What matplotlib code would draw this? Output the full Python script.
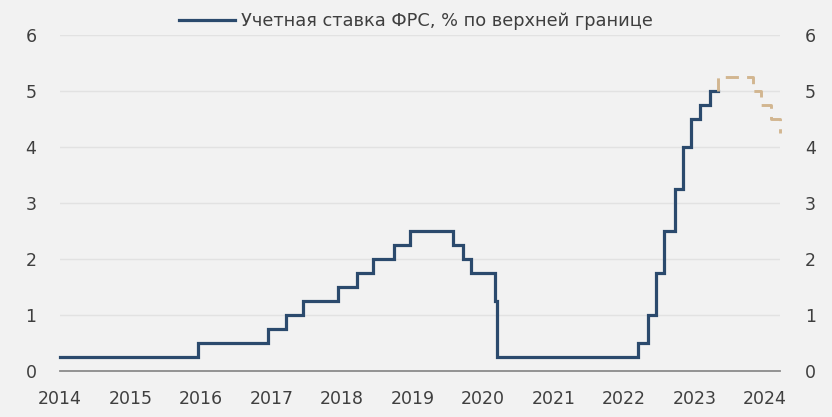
import matplotlib
matplotlib.use("Agg")
import matplotlib.pyplot as plt
import pandas as pd

plt.rcParams['font.family'] = ['DejaVu Sans']

# Actual upper bound of the Fed funds rate, %
fact_dates = ["2014-01-01", "2015-12-16", "2016-12-14", "2017-03-15", "2017-06-14",
              "2017-12-13", "2018-03-21", "2018-06-13", "2018-09-26", "2018-12-19",
              "2019-07-31", "2019-09-18", "2019-10-30", "2020-03-03", "2020-03-15",
              "2022-03-16", "2022-05-04", "2022-06-15", "2022-07-27", "2022-09-21",
              "2022-11-02", "2022-12-14", "2023-02-01", "2023-03-22", "2023-05-03"]
fact_values = [0.25, 0.50, 0.75, 1.00, 1.25,
               1.50, 1.75, 2.00, 2.25, 2.50,
               2.25, 2.00, 1.75, 1.25, 0.25,
               0.50, 1.00, 1.75, 2.50, 3.25,
               4.00, 4.50, 4.75, 5.00, 5.00]

# Forecast path (dashed)
fc_dates = ["2023-05-03", "2023-05-03", "2023-11-01", "2023-12-13", "2024-01-31", "2024-03-20"]
fc_values = [5.00, 5.25, 5.00, 4.75, 4.50, 4.25]

years = list(range(2014, 2025))
y_ticks = [0, 1, 2, 3, 4, 5, 6]
legend_label = "Учетная ставка ФРС, % по верхней границе"

bg = "#f2f2f2"
navy = "#2b4a6d"
tan = "#d2b690"
txt = "#3f3f3f"

fig = plt.figure(figsize=(8.32, 4.17), dpi=100, facecolor=bg)
ax = fig.add_axes([60/832, 46/417, 720/832, 336/417])
ax.set_facecolor(bg)

fd = pd.to_datetime(fact_dates)
cd = pd.to_datetime(fc_dates)
ax.plot(fd, fact_values, drawstyle="steps-post", color=navy, lw=2.3,
        label=legend_label, solid_joinstyle="miter", clip_on=False)
ax.plot(cd, fc_values, drawstyle="steps-post", color=tan, lw=2.1,
        dashes=(4.5, 2.8), clip_on=False)

ax.set_xlim(pd.Timestamp("2014-01-01"), pd.Timestamp("2024-03-20"))
ax.set_ylim(0, 6)
ax.set_yticks(y_ticks)
ax.set_xticks(pd.to_datetime([f"{y}-01-01" for y in years]))
ax.set_xticklabels([str(y) for y in years])
ax.grid(axis="y", color="#e2e2e2", lw=1)
ax.set_axisbelow(True)
for s in ["top", "right", "left"]:
    ax.spines[s].set_visible(False)
ax.spines["bottom"].set_color("#8c8c8c")
ax.spines["bottom"].set_linewidth(1.3)
ax.tick_params(axis="both", length=0, labelsize=12.5, colors=txt)
ax.tick_params(axis="x", pad=14)
ax.tick_params(axis="y", pad=17)

ax2 = ax.twinx()
ax2.set_ylim(0, 6)
ax2.set_yticks(y_ticks)
for s in ax2.spines.values():
    s.set_visible(False)
ax2.tick_params(axis="y", length=0, labelsize=12.5, colors=txt, pad=18)

fig.legend(loc="upper center", bbox_to_anchor=(0.5, 1.01), frameon=False,
           fontsize=12.8, handlelength=3.1, handletextpad=0.35, labelcolor=txt)

fig.savefig("out.png", dpi=100, facecolor=bg)
